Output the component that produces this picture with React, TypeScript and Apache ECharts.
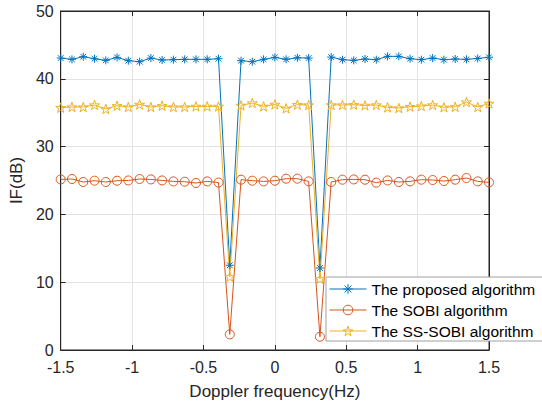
import React, { useEffect, useRef } from "react";
import * as echarts from "echarts";

const xValues = [
  -1.5, -1.4211, -1.3421, -1.2632, -1.1842, -1.1053, -1.0263, -0.9474, -0.8684, -0.7895,
  -0.7105, -0.6316, -0.5526, -0.4737, -0.3947, -0.3158, -0.2368, -0.1579, -0.0789, 0,
  0.0789, 0.1579, 0.2368, 0.3158, 0.3947, 0.4737, 0.5526, 0.6316, 0.7105, 0.7895,
  0.8684, 0.9474, 1.0263, 1.1053, 1.1842, 1.2632, 1.3421, 1.4211, 1.5,
];

const proposed = [
  43.06, 42.87, 43.26, 42.96, 42.72, 43.16, 42.67, 42.52, 43.06, 42.77,
  42.82, 42.87, 42.87, 42.87, 42.96, 12.5, 42.67, 42.52, 42.87, 43.16,
  42.87, 43.1, 43.06, 12.1, 43.2, 42.82, 42.72, 42.92, 42.82, 43.31,
  43.31, 42.96, 42.82, 43.06, 42.82, 42.92, 42.87, 43.0, 43.18,
];

const sobi = [
  25.16, 25.22, 24.78, 24.97, 24.78, 24.97, 25.01, 25.22, 25.16, 25.01,
  24.87, 24.82, 24.63, 24.87, 24.7, 2.3, 25.12, 24.97, 24.87, 24.97,
  25.27, 25.27, 24.87, 1.96, 24.78, 25.12, 25.16, 25.12, 24.68, 25.01,
  24.78, 24.87, 25.12, 25.07, 24.92, 25.12, 25.37, 24.87, 24.72,
];

const ssSobi = [
  35.74, 35.84, 35.84, 36.14, 35.55, 36.03, 35.84, 36.22, 35.84, 36.03,
  35.84, 35.84, 35.93, 35.93, 35.93, 10.8, 36.08, 36.43, 35.93, 36.22,
  35.64, 36.18, 36.14, 10.5, 36.14, 36.14, 36.18, 36.08, 36.14, 35.79,
  35.69, 35.89, 35.98, 36.14, 35.8, 35.87, 36.57, 35.84, 36.37,
];

const seriesNames = ["The proposed algorithm", "The SOBI algorithm", "The SS-SOBI algorithm"];
const seriesColors = ["#0072BD", "#D95319", "#EDB120"];
const xTitle = "Doppler frequency(Hz)";
const yTitle = "IF(dB)";

const ASTERISK = "path://M0,-100L0,100M-100,0L100,0M-71,-71L71,71M-71,71L71,-71";
const STAR =
  "path://M0,-100L22.45,-30.9L95.1,-30.9L36.3,11.8L58.8,80.9L0,38.2L-58.8,80.9L-36.3,11.8L-95.1,-30.9L-22.45,-30.9Z";

const FONT = "'Liberation Sans', Arial, sans-serif";
const AX = "#262626";
const CLEAR = "rgba(255,255,255,0)";

export default function App() {
  const ref = useRef<HTMLDivElement>(null);
  useEffect(() => {
    if (!ref.current) return;
    const chart = echarts.init(ref.current, undefined, { renderer: "svg" });
    const pair = (ys: number[]) => xValues.map((x, i) => [x, ys[i]]);
    const mk = (name: string, ys: number[], color: string, symbol: string, size: number) => ({
      name,
      type: "line",
      data: pair(ys),
      symbol,
      symbolSize: size,
      symbolKeepAspect: true,
      showAllSymbol: true,
      lineStyle: { color, width: 1 },
      itemStyle: { color: CLEAR, borderColor: color, borderWidth: 1 },
      emphasis: { disabled: true },
    });
    const xBase = { type: "value", min: -1.5, max: 1.5, interval: 0.5 };
    const yBase = { type: "value", min: 0, max: 50, interval: 10 };
    const line = { show: true, onZero: false, lineStyle: { color: AX, width: 1 } };
    const tick = { show: true, inside: true, length: 5, lineStyle: { color: AX } };
    const grid = { show: true, lineStyle: { color: "#e3e3e3", width: 1 } };
    chart.setOption({
      animation: false,
      backgroundColor: "#ffffff",
      textStyle: { fontFamily: FONT },
      grid: {
        left: 57,
        top: 11,
        width: 432,
        height: 339,
        containLabel: false,
        show: true,
        borderColor: AX,
        borderWidth: 1,
        backgroundColor: "transparent",
      },
      legend: {
        orient: "vertical",
        left: 326,
        top: 277,
        padding: [4, 13, 2, 3],
        itemWidth: 37,
        itemHeight: 12,
        itemGap: 5,
        backgroundColor: "#ffffff",
        borderColor: "#a0a0a0",
        borderWidth: 1,
        textStyle: { fontSize: 15.5, lineHeight: 16, color: "#000", fontFamily: FONT },
        data: seriesNames.map((n, i) => ({
          name: n,
          itemStyle: { color: CLEAR, borderColor: seriesColors[i], borderWidth: 1 },
          lineStyle: { color: seriesColors[i], width: 1 },
        })),
      },
      xAxis: [
        {
          ...xBase,
          position: "bottom",
          name: xTitle,
          nameLocation: "middle",
          nameGap: 33,
          nameTextStyle: { fontSize: 17, color: AX, fontFamily: FONT },
          axisLine: line,
          axisTick: tick,
          axisLabel: { fontSize: 16, color: AX, margin: 9, fontFamily: FONT },
          splitLine: grid,
        },
        {
          ...xBase,
          position: "top",
          axisLine: line,
          axisTick: tick,
          axisLabel: { show: false },
          splitLine: { show: false },
        },
      ],
      yAxis: [
        {
          ...yBase,
          position: "left",
          name: yTitle,
          nameLocation: "middle",
          nameGap: 32,
          nameTextStyle: { fontSize: 17, color: AX, fontFamily: FONT },
          axisLine: line,
          axisTick: tick,
          axisLabel: { fontSize: 16, color: AX, margin: 7, fontFamily: FONT },
          splitLine: grid,
        },
        {
          ...yBase,
          position: "right",
          axisLine: line,
          axisTick: tick,
          axisLabel: { show: false },
          splitLine: { show: false },
        },
      ],
      series: [
        mk(seriesNames[0], proposed, seriesColors[0], ASTERISK, 8),
        mk(seriesNames[1], sobi, seriesColors[1], "circle", 9),
        mk(seriesNames[2], ssSobi, seriesColors[2], STAR, 10),
      ],
    });
    return () => chart.dispose();
  }, []);
  return (
    <div
      ref={ref}
      style={{ position: "absolute", left: 0, top: 0, width: 542, height: 405, background: "#fff" }}
    />
  );
}
